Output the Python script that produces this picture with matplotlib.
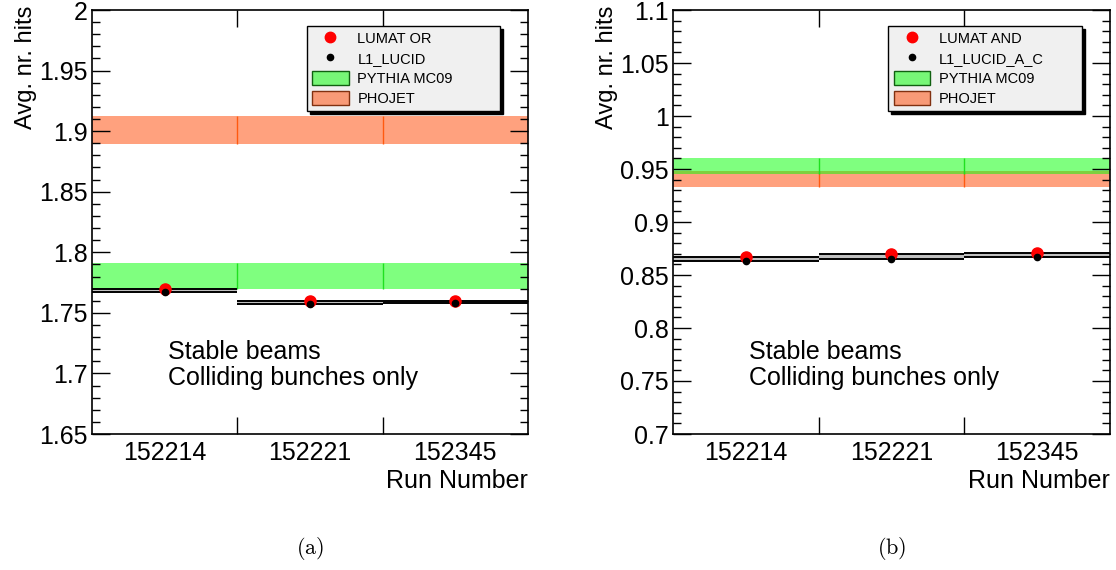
import matplotlib
matplotlib.use('Agg')
import matplotlib.pyplot as plt
from matplotlib.lines import Line2D
from matplotlib.patches import Patch
import numpy as np

plt.rcParams['font.family'] = ['Liberation Sans', 'DejaVu Sans']
plt.rcParams['mathtext.fontset'] = 'cm'

# ---------------------------------------------------------------------------
# data
# ---------------------------------------------------------------------------
runs = ['152214', '152221', '152345']

# panel (a): OR
lumat_or = [1.7701, 1.7597, 1.7600]
lucid_or = [1.7673, 1.7576, 1.7580]
pythia_or = (1.7696, 1.7911)
phojet_or = (1.8893, 1.9125)

# panel (b): AND
lumat_and = [0.8673, 0.8694, 0.8707]
lucid_and = [0.8635, 0.8650, 0.8666]
pythia_and = (0.9454, 0.9604)
phojet_and = (0.9332, 0.9482)

labels_leg = {
    'a': ['LUMAT OR', 'L1_LUCID', 'PYTHIA MC09', 'PHOJET'],
    'b': ['LUMAT AND', 'L1_LUCID_A_C', 'PYTHIA MC09', 'PHOJET'],
}

GREEN = (0.0, 1.0, 0.0, 0.5)
ORANGE = (1.0, 0.33, 0.08, 0.55)


def draw_panel(ax, lumat, lucid, pythia, phojet, ylim, ticks, labels, caption):
    nb = len(runs)
    edges = np.arange(nb + 1)
    centers = edges[:-1] + 0.5

    # MC bands, one per bin
    for band, col, ecol in [(phojet, ORANGE, '#ff5a10'), (pythia, GREEN, '#20e020')]:
        ax.bar(edges[:-1], band[1] - band[0], width=1.0, bottom=band[0],
               align='edge', color=col, linewidth=0, zorder=1)
        ax.vlines(edges[1:-1], band[0], band[1], color=ecol, linewidth=1.0, zorder=1)

    # data lines per bin
    for i in range(nb):
        ax.fill_between([edges[i], edges[i + 1]], lucid[i], lumat[i],
                        color='#c0c0c0', linewidth=0, zorder=2)
    ax.hlines(lumat, edges[:-1], edges[1:], color='black', linewidth=1.4, zorder=3)
    ax.hlines(lucid, edges[:-1], edges[1:], color='black', linewidth=1.4, zorder=3)

    ax.plot(centers, lumat, 'o', color='red', markersize=8, zorder=4)
    ax.plot(centers, lucid, 'o', color='black', markersize=4.5, zorder=5)

    ax.set_xlim(0, nb)
    ax.set_ylim(*ylim)
    ax.set_yticks(ticks)
    ax.set_yticklabels(labels)
    ax.set_yticks(np.arange(ylim[0], ylim[1] + 1e-9, 0.01), minor=True)
    ax.tick_params(axis='y', which='major', direction='in', length=13, width=1,
                   left=True, right=True, labelsize=18, pad=3)
    ax.tick_params(axis='y', which='minor', direction='in', length=6, width=1,
                   left=True, right=True)

    ax.set_xticks(centers)
    ax.set_xticklabels(runs)
    ax.set_xticks(edges[1:-1], minor=True)
    ax.tick_params(axis='x', which='major', length=0, labelsize=18, pad=5)
    ax.tick_params(axis='x', which='minor', direction='in', length=12, width=1,
                   top=True, bottom=True)
    for s in ax.spines.values():
        s.set_linewidth(1.2)

    ax.set_ylabel('Avg. nr. hits', fontsize=17, loc='top')
    ax.yaxis.set_label_coords(-0.126, 1.01)
    ax.text(1.0, -0.11, 'Run Number', transform=ax.transAxes, ha='right',
            va='center', fontsize=18)

    ax.text(0.175, 0.193, 'Stable beams', transform=ax.transAxes,
            fontsize=18, va='center', ha='left')
    ax.text(0.175, 0.132, 'Colliding bunches only', transform=ax.transAxes,
            fontsize=18, va='center', ha='left')

    handles = [
        Line2D([], [], marker='o', color='red', linestyle='none', markersize=7.5),
        Line2D([], [], marker='o', color='black', linestyle='none', markersize=4.5),
        Patch(facecolor=GREEN, edgecolor='#106010', linewidth=1),
        Patch(facecolor=ORANGE, edgecolor='#803010', linewidth=1),
    ]
    leg = ax.legend(handles, labels_leg[caption], loc='upper left',
                    bbox_to_anchor=(0.493, 0.77, 0.443, 0.192), mode='expand',
                    fontsize=10.5, frameon=True,
                    fancybox=False, shadow={'color': 'black', 'alpha': 1.0},
                    facecolor='#f0f0f0', framealpha=1, edgecolor='black',
                    handlelength=2.5, handleheight=1.1, labelspacing=0.35,
                    borderpad=0.35, handletextpad=0.6, borderaxespad=0)
    leg.get_frame().set_linewidth(1.0)
    leg.set_zorder(10)

    ax.text(0.5, -0.27, r'$\mathrm{(' + caption + ')}$', transform=ax.transAxes,
            ha='center', va='center', fontsize=16)


fig = plt.figure(figsize=(11.16, 5.70), dpi=100)
ax1 = fig.add_axes([92 / 1116, 1 - 434 / 570, 436 / 1116, 424 / 570])
ax2 = fig.add_axes([673 / 1116, 1 - 434 / 570, 437 / 1116, 424 / 570])

draw_panel(ax1, lumat_or, lucid_or, pythia_or, phojet_or, (1.65, 2.0),
           [1.65, 1.7, 1.75, 1.8, 1.85, 1.9, 1.95, 2.0],
           ['1.65', '1.7', '1.75', '1.8', '1.85', '1.9', '1.95', '2'], 'a')
draw_panel(ax2, lumat_and, lucid_and, pythia_and, phojet_and, (0.7, 1.1),
           [0.7, 0.75, 0.8, 0.85, 0.9, 0.95, 1.0, 1.05, 1.1],
           ['0.7', '0.75', '0.8', '0.85', '0.9', '0.95', '1', '1.05', '1.1'], 'b')

fig.savefig('out.png', dpi=100)
